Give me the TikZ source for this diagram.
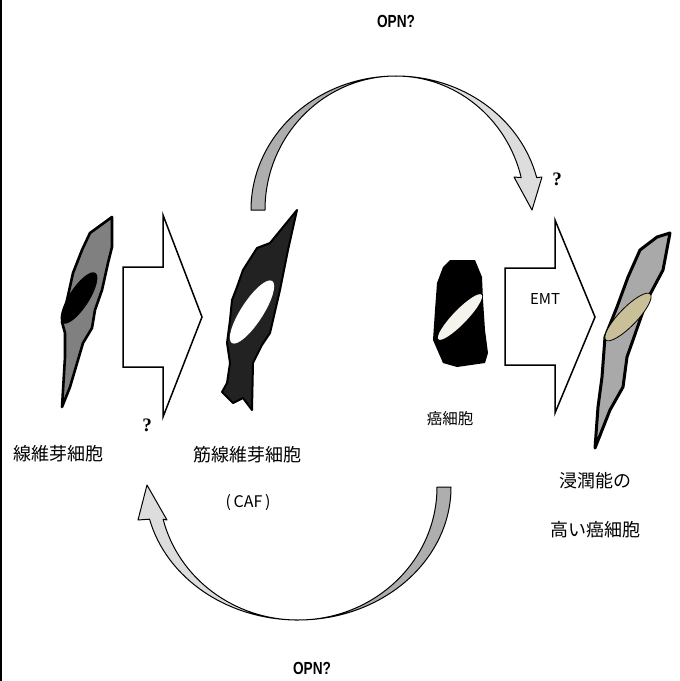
\documentclass[tikz,border=0pt]{standalone}
\usepackage{fontspec}
\setmainfont{Liberation Sans}
\newfontfamily\jpfont{Noto Sans CJK JP}
\newfontfamily\qfont{Liberation Serif}
\definecolor{fibgray}{HTML}{808080}
\definecolor{cafdark}{HTML}{222222}
\definecolor{invgray}{HTML}{A9A9A9}
\definecolor{nuctan}{HTML}{C9BF98}
\definecolor{nucivory}{HTML}{F4F4EC}
\definecolor{arcdark}{HTML}{AEAEAE}
\definecolor{arclight}{HTML}{DDDDDD}

\begin{document}
\begin{tikzpicture}[
    x=1pt,y=1pt,
    cell/.style={draw=black,line width=2.6pt,line join=round},
    nucleus/.style={draw=black,line width=0.8pt},
    blockarrow/.style={draw=black,line width=1.5pt,fill=white,line join=miter},
    bentarrow/.style={draw=black,line width=1pt,line join=round},
    jlabel/.style={font=\jpfont\fontsize{18}{20}\selectfont,inner sep=0pt},
    opn/.style={font=\bfseries\fontsize{17.5}{19}\selectfont,inner sep=0pt},
    qmark/.style={font=\qfont\bfseries\fontsize{19}{20}\selectfont,inner sep=0pt}
  ]
    \useasboundingbox (0,0) rectangle (680,-681);
    \draw[line width=1.5pt] (0.75,0) -- (0.75,-681);

    % fibroblast
    \draw[cell,fill=fibgray] (112,-217) -- (90,-233) -- (82,-250) -- (73,-273)
      -- (67,-300) -- (62,-322) -- (65,-333) -- (65,-357) -- (62,-407)
      -- (70,-387) -- (83,-343) -- (92,-328) -- (95,-310) -- (102,-290)
      -- (108,-263) -- (112,-247) -- cycle;
    \fill[black,shift={(79,-298)},rotate=57] (0,0) ellipse[x radius=30,y radius=10];

    % myofibroblast
    \draw[cell,line width=2pt,fill=cafdark] (297,-210) -- (270,-243) -- (257,-248)
      -- (243,-270) -- (237,-287) -- (232,-300) -- (230,-320) -- (227,-343)
      -- (230,-363) -- (227,-383) -- (222,-392) -- (233,-403) -- (243,-398)
      -- (252,-410) -- (253,-363) -- (262,-345) -- (270,-333) -- (280,-290)
      -- (288,-250) -- cycle;
    \fill[white,shift={(252,-312)},rotate=57] (0,0) ellipse[x radius=37,y radius=11];

    % cancer cell
    \fill[black] (450,-260) -- (475,-260) -- (482,-277) -- (483,-300) -- (485,-330)
      -- (488,-353) -- (485,-363) -- (457,-367) -- (443,-363) -- (433,-340)
      -- (435,-310) -- (437,-283) -- (443,-267) -- cycle;
    \fill[nucivory,shift={(460,-317)},rotate=46] (0,0) ellipse[x radius=31,y radius=7];

    % invasive cancer cell
    \draw[cell,line width=3pt,fill=invgray] (670,-233) -- (657,-237) -- (640,-250)
      -- (628,-277) -- (617,-307) -- (605,-337) -- (602,-377) -- (598,-407)
      -- (595,-448) -- (610,-410) -- (623,-387) -- (627,-357) -- (633,-340)
      -- (647,-300) -- (663,-270) -- cycle;
    \draw[nucleus,fill=nuctan,shift={(628,-317)},rotate=46] (0,0) ellipse[x radius=32,y radius=9];

    % block arrows
    \draw[blockarrow] (123,-267) -- (163,-267) -- (163,-215) -- (202,-317)
      -- (163,-417) -- (163,-367) -- (123,-367) -- cycle;
    \draw[blockarrow] (505,-268) -- (555,-268) -- (555,-220) -- (595,-317)
      -- (555,-413) -- (555,-365) -- (505,-365) -- cycle;

    % upper bent arrow
    \draw[bentarrow,fill=arcdark] (251,-210)
      arc[start angle=180,end angle=90,x radius=145,y radius=134]
      arc[start angle=90,end angle=180,x radius=131,y radius=134] -- cycle;
    \draw[bentarrow,fill=arclight] (396,-76)
      arc[start angle=90,end angle=14,x radius=145,y radius=134]
      -- (542,-177) -- (532,-210) -- (514,-177) -- (521.2,-177.6)
      arc[start angle=14,end angle=90,x radius=129,y radius=134] -- cycle;

    % lower bent arrow
    \draw[bentarrow,fill=arcdark] (451,-487)
      arc[start angle=0,end angle=-90,x radius=153,y radius=133]
      arc[start angle=-90,end angle=0,x radius=139,y radius=133] -- cycle;
    \draw[bentarrow,fill=arclight] (298,-620)
      arc[start angle=-90,end angle=-166,x radius=153,y radius=133]
      -- (138,-520) -- (147,-485) -- (167,-520) -- (163.1,-519.2)
      arc[start angle=-166,end angle=-90,x radius=139,y radius=133] -- cycle;

    % labels
    \node[opn] (opntop) at (396,-21) {\scalebox{0.78}[1]{OPN?}};
    \node[opn] (opnbot) at (312,-668) {\scalebox{0.78}[1]{OPN?}};
    \node[qmark] (qfib) at (147,-425) {?};
    \node[qmark] (qemt) at (557,-179) {?};
    \node[jlabel] (fiblabel) at (58,-454) {線維芽細胞};
    \node[jlabel] (caflabel) at (247,-455) {筋線維芽細胞};
    \node[jlabel,font=\jpfont\fontsize{16}{18}\selectfont] (cafabbr) at (248,-503) {(\,CAF\,)};
    \node[jlabel,font=\jpfont\fontsize{15.5}{17}\selectfont] (cancerlabel) at (450,-419) {癌細胞};
    \node[jlabel,font=\jpfont\fontsize{15}{17}\selectfont] (emt) at (545,-299) {EMT};
    \node[jlabel] (invlabel) at (595,-481) {浸潤能の};
    \node[jlabel] (invlabeltwo) at (595,-530) {高い癌細胞};
  \end{tikzpicture}
\end{document}
